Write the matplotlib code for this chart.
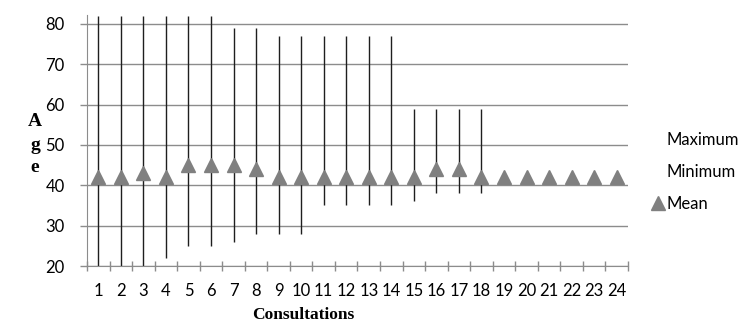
import numpy as np
import matplotlib
matplotlib.use("Agg")
import matplotlib.pyplot as plt
from matplotlib.lines import Line2D

# age range per consultation number
consultations = list(range(1, 25))
max_age = [82, 82, 82, 82, 82, 82, 79, 79, 77, 77, 77, 77, 77, 77,
           59, 59, 59, 59, 42, 42, 42, 42, 42, 42]
min_age = [20, 20, 20, 22, 25, 25, 26, 28, 28, 28, 35, 35, 35, 35,
           36, 38, 38, 38, 42, 42, 42, 42, 42, 42]
mean_age = [42, 42, 43, 42, 45, 45, 45, 44, 42, 42, 42, 42, 42, 42,
            42, 44, 44, 42, 42, 42, 42, 42, 42, 42]
y_ticks = [20, 30, 40, 50, 60, 70, 80]

plt.rcParams['font.family'] = ['Lato', 'DejaVu Sans']

fig = plt.figure(figsize=(7.5, 3.28), dpi=100)
ax = fig.add_axes([0.116, 0.189, 0.7213, 0.765])

x = np.arange(len(consultations))
ax.vlines(x, min_age, max_age, color='#1e1e1e', lw=1.0, zorder=2)
ax.plot(x, mean_age, linestyle='none', marker='^', ms=10,
        color='#808080', markeredgecolor='#808080', zorder=3)

ax.set_xlim(-0.5, len(consultations) - 0.5)
ax.set_ylim(20, 82.2)
ax.set_yticks(y_ticks)
ax.yaxis.grid(True, color='#8c8c8c', lw=1.0)
ax.set_axisbelow(True)

# category labels centred, tick marks on the boundaries
ax.set_xticks(x)
ax.set_xticklabels([str(c) for c in consultations], fontsize=12)
ax.set_xticks(np.arange(-0.5, len(consultations)), minor=True)
ax.tick_params(axis='x', which='major', length=0, pad=12)
ax.tick_params(axis='x', which='minor', direction='inout', length=7,
               color='#8c8c8c', width=1.0)
ax.tick_params(axis='y', length=5, color='#8c8c8c', width=1.0,
               labelsize=12, pad=11)

for side in ['top', 'right']:
    ax.spines[side].set_visible(False)
ax.spines['left'].set_color('#8c8c8c')
ax.spines['bottom'].set_color('#8c8c8c')

fig.text(303 / 750, 1 - 315 / 328, 'Consultations', family='Liberation Serif',
         fontweight='bold', fontsize=12.5, ha='center', va='center')

for letter, ypos in zip('Age', [121, 145, 167]):
    fig.text(35 / 750, 1 - ypos / 328, letter, family='Liberation Serif',
             fontweight='bold', fontsize=14, ha='center', va='center')

handles = [Line2D([], [], linestyle='none'),
           Line2D([], [], linestyle='none'),
           Line2D([], [], linestyle='none', marker='^', ms=10, color='#808080')]
fig.legend(handles, ['Maximum', 'Minimum', 'Mean'], frameon=False,
           fontsize=12, handlelength=0.7, handletextpad=0.15,
           labelspacing=0.95, loc='center left', borderaxespad=0,
           borderpad=0, bbox_to_anchor=(652 / 750, 1 - 172 / 328))

fig.savefig('out.png', dpi=100)
